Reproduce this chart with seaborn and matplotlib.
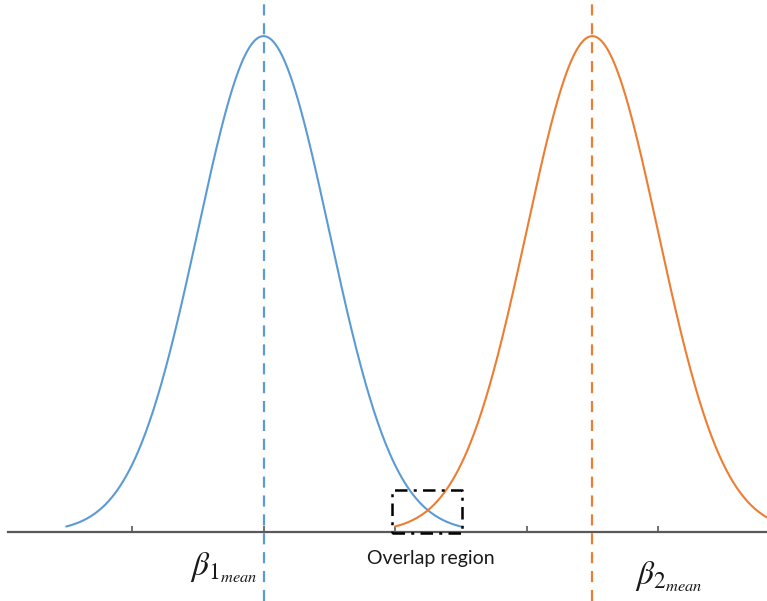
import numpy as np
import pandas as pd
import matplotlib
matplotlib.use("Agg")
import matplotlib.pyplot as plt
import seaborn as sns

# Two normal distributions of the coefficient estimates
means = [1.0, 3.5]
sigmas = [0.5, 0.5]
x_ranges = [(-0.5, 2.5), (2.0, 5.0)]
colors = ["#5B9BD5", "#ED7D31"]
labels = [r"$\beta_{1_{mean}}$", r"$\beta_{2_{mean}}$"]
label_pos = [(0.70, -0.058), (4.08, -0.072)]

tick_positions = [0, 1, 2, 3, 4]

# Region where the two curves overlap
overlap_x = (1.98, 2.51)
overlap_y = (-0.002, 0.068)
overlap_text = "Overlap region"

sns.set_theme(style="white")
plt.rcParams["mathtext.fontset"] = "stix"

fig = plt.figure(figsize=(7.67, 6.01), dpi=100)
ax = fig.add_axes([8 / 767, 0, 1 - 8 / 767, 1])

frames = []
for i, (m, s, (lo, hi)) in enumerate(zip(means, sigmas, x_ranges)):
    xs = np.linspace(lo, hi, 400)
    dens = np.exp(-0.5 * ((xs - m) / s) ** 2) / (s * np.sqrt(2 * np.pi))
    frames.append(pd.DataFrame({"x": xs, "density": dens, "group": f"g{i}"}))
df = pd.concat(frames, ignore_index=True)

sns.lineplot(data=df, x="x", y="density", hue="group", palette=colors,
             linewidth=1.5, legend=False, ax=ax, sort=False)

for m, c in zip(means, colors):
    ax.axvline(m, color=c, linewidth=1.6, dashes=(5, 3.5), zorder=3)

# Dash-dot box around the overlap
ax.plot([overlap_x[0], overlap_x[1], overlap_x[1], overlap_x[0], overlap_x[0]],
        [overlap_y[0], overlap_y[0], overlap_y[1], overlap_y[1], overlap_y[0]],
        color="black", linewidth=1.8, dashes=(5, 2.5, 1.2, 2.5), zorder=4)

ax.text((overlap_x[0] + overlap_x[1]) / 2 + 0.03, -0.042, overlap_text,
        ha="center", va="center", fontsize=14, family="Lato", color="#1a1a1a")

for lab, (lx, ly) in zip(labels, label_pos):
    ax.text(lx, ly, lab, ha="center", va="center", fontsize=24, color="#1a1a1a")

ax.set_xlim((8 - 132) / 131.5, (767 - 132) / 131.5)
ax.set_ylim(-0.111, 0.856)

for side in ["top", "left", "right"]:
    ax.spines[side].set_visible(False)
ax.spines["bottom"].set_position(("data", 0))
ax.spines["bottom"].set_color("#595959")
ax.spines["bottom"].set_linewidth(1.6)
ax.set_xticks(tick_positions)
ax.set_yticks([])
ax.tick_params(axis="x", direction="in", length=4.5, width=1.2, color="#595959",
               labelbottom=False, bottom=True)
ax.set_xlabel("")
ax.set_ylabel("")

fig.savefig("out.png", dpi=100)
